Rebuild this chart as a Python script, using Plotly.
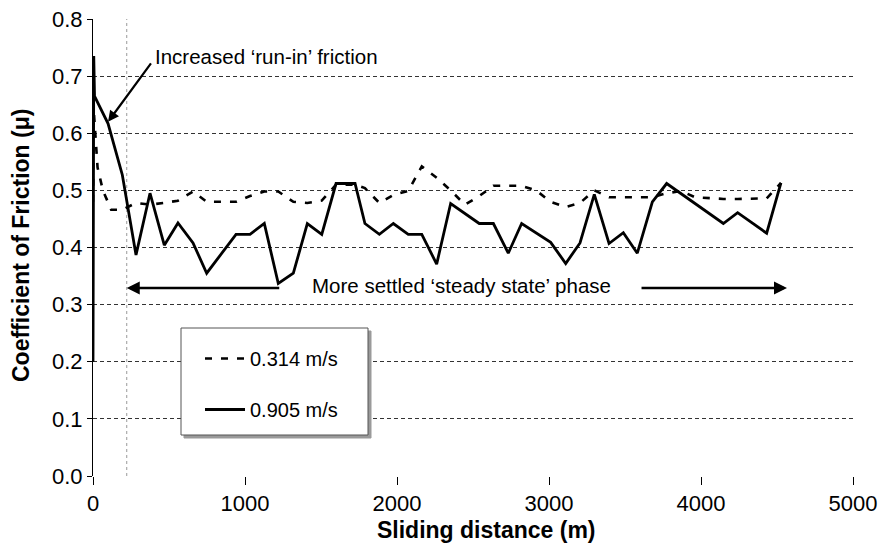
import plotly.graph_objects as go

# ---- data ----
dist_fast = [0, 5, 10, 99, 193, 283, 375, 469, 559, 658, 748, 941, 1033, 1127, 1219,
             1318, 1410, 1505, 1599, 1724, 1789, 1884, 1976, 2074, 2163, 2261, 2353,
             2541, 2634, 2732, 2820, 3011, 3110, 3204, 3298, 3395, 3489, 3581, 3680,
             3774, 4147, 4241, 4432, 4526]
mu_fast = [0.20, 0.735, 0.665, 0.617, 0.527, 0.387, 0.495, 0.404, 0.443, 0.408, 0.355,
           0.423, 0.423, 0.442, 0.337, 0.355, 0.442, 0.423, 0.512, 0.512, 0.442, 0.423,
           0.442, 0.423, 0.423, 0.371, 0.477, 0.442, 0.442, 0.390, 0.442, 0.409, 0.372,
           0.408, 0.493, 0.407, 0.426, 0.390, 0.480, 0.512, 0.442, 0.461, 0.425, 0.513]

dist_slow = [0, 5, 30, 65, 120, 193, 283, 375, 469, 559, 658, 748, 845, 941, 1033, 1127,
             1219, 1318, 1410, 1505, 1599, 1724, 1789, 1884, 1976, 2074, 2163, 2261,
             2353, 2447, 2541, 2634, 2732, 2820, 2915, 3011, 3110, 3204, 3298, 3395,
             3489, 3581, 3680, 3774, 3870, 3960, 4055, 4147, 4241, 4335, 4432, 4526]
mu_slow = [0.48, 0.64, 0.54, 0.50, 0.466, 0.466, 0.478, 0.475, 0.478, 0.482, 0.498,
           0.480, 0.480, 0.480, 0.490, 0.498, 0.498, 0.480, 0.478, 0.482, 0.510, 0.510,
           0.504, 0.478, 0.492, 0.499, 0.542, 0.522, 0.500, 0.475, 0.490, 0.508, 0.508,
           0.508, 0.500, 0.480, 0.471, 0.478, 0.500, 0.488, 0.488, 0.488, 0.488, 0.495,
           0.499, 0.488, 0.486, 0.485, 0.485, 0.485, 0.486, 0.513]

series_names = ["0.314 m/s", "0.905 m/s"]
x_ticks = [0, 1000, 2000, 3000, 4000, 5000]
y_ticks = [0.0, 0.1, 0.2, 0.3, 0.4, 0.5, 0.6, 0.7, 0.8]
x_title = "<b>Sliding distance (m)</b>"
y_title = "<b>Coefficient of Friction (\u03bc)</b>"

RUNIN_END = 222          # m, end of run-in phase marker
FONT = "Liberation Sans, Arial, sans-serif"

# plot-area pixel geometry (page coordinates) used for placing decorations
W, H = 884, 543
PL, PR, PT, PB = 93, 853, 19, 476


def px2paper_x(px):
    return (px - PL) / float(PR - PL)


def px2paper_y(py):
    return (PB - py) / float(PB - PT)


fig = go.Figure()
fig.add_trace(go.Scatter(x=dist_slow, y=mu_slow, mode="lines", name=series_names[0],
                         legendgroup="a",
                         line=dict(color="black", width=2.6, dash="7px,9px")))
fig.add_trace(go.Scatter(x=dist_fast, y=mu_fast, mode="lines", name=series_names[1],
                         legendgroup="b",
                         line=dict(color="black", width=2.8)))

# vertical dotted marker
fig.add_shape(type="line", xref="x", yref="y", x0=RUNIN_END, x1=RUNIN_END, y0=0, y1=0.8,
              line=dict(color="#999999", width=1, dash="dot"), layer="below")

# legend box with shadow
fig.add_shape(type="rect", xref="paper", yref="paper",
              x0=px2paper_x(184), x1=px2paper_x(371), y0=px2paper_y(438), y1=px2paper_y(331),
              line=dict(color="#9a9a9a", width=1), fillcolor="#9a9a9a", layer="above")
fig.add_shape(type="rect", xref="paper", yref="paper",
              x0=px2paper_x(181), x1=px2paper_x(368), y0=px2paper_y(435), y1=px2paper_y(328),
              line=dict(color="#555555", width=1), fillcolor="white", layer="above")

# annotations
fig.add_annotation(x=99, y=0.62, ax=44, ay=-60, xref="x", yref="y", text="",
                   showarrow=True, arrowhead=2, arrowsize=1, arrowwidth=2.2,
                   arrowcolor="black")
fig.add_annotation(x=px2paper_x(153), y=px2paper_y(57), xref="paper", yref="paper",
                   text="Increased \u2018run-in\u2019 friction", showarrow=False,
                   xanchor="left", yanchor="middle",
                   font=dict(family=FONT, size=20.5, color="black"))
fig.add_annotation(x=RUNIN_END, y=0.329, ax=154, ay=0, xref="x", yref="y", text="",
                   showarrow=True, arrowhead=2, arrowsize=1, arrowwidth=2.6,
                   arrowcolor="black")
fig.add_annotation(x=4566, y=0.329, ax=-147, ay=0, xref="x", yref="y", text="",
                   showarrow=True, arrowhead=2, arrowsize=1, arrowwidth=2.6,
                   arrowcolor="black")
fig.add_annotation(x=px2paper_x(461), y=px2paper_y(285), xref="paper", yref="paper",
                   text="More settled \u2018steady state\u2019 phase", showarrow=False,
                   xanchor="center", yanchor="middle",
                   font=dict(family=FONT, size=20.5, color="black"))

# axis titles placed as paper annotations (fixed margins)
fig.add_annotation(x=px2paper_x(486), y=px2paper_y(530), xref="paper", yref="paper",
                   text=x_title, showarrow=False, xanchor="center", yanchor="middle",
                   font=dict(family=FONT, size=23, color="black"))
fig.add_annotation(x=px2paper_x(21), y=px2paper_y(246), xref="paper", yref="paper",
                   text=y_title, showarrow=False, xanchor="center", yanchor="middle",
                   textangle=-90, font=dict(family=FONT, size=23, color="black"))

fig.update_layout(
    template="none",
    width=W, height=H,
    margin=dict(l=PL, r=W - PR, t=PT, b=H - PB, pad=0),
    paper_bgcolor="white", plot_bgcolor="white",
    font=dict(family=FONT, size=22, color="black"),
    showlegend=True,
    legend=dict(x=px2paper_x(200), y=px2paper_y(339), xanchor="left", yanchor="top",
                bgcolor="rgba(0,0,0,0)", borderwidth=0, tracegroupgap=22,
                font=dict(family=FONT, size=20, color="black"), itemwidth=40),
    xaxis=dict(range=[0, 5000], tickvals=x_ticks, ticktext=[str(v) for v in x_ticks],
               showgrid=False, zeroline=False, showline=False,
               ticks="outside", ticklen=8, tickcolor="black", tickwidth=1,
               ticklabeloverflow="allow", automargin=False,
               tickfont=dict(family=FONT, size=22)),
    yaxis=dict(range=[0, 0.8], tickvals=y_ticks, ticktext=[f"{v:.1f}" for v in y_ticks],
               showgrid=True, gridcolor="#333333", gridwidth=1, griddash="4px,3px",
               zeroline=False, showline=True, linecolor="black", linewidth=1,
               ticks="outside", ticklen=5, tickcolor="black",
               ticklabeloverflow="allow", automargin=False,
               tickfont=dict(family=FONT, size=22)),
)

# the page body has a default 8px margin; remove it so the figure fills the window
fig.write_html("out.html", config={"displayModeBar": False},
               post_script="document.body.style.margin='0px';")
